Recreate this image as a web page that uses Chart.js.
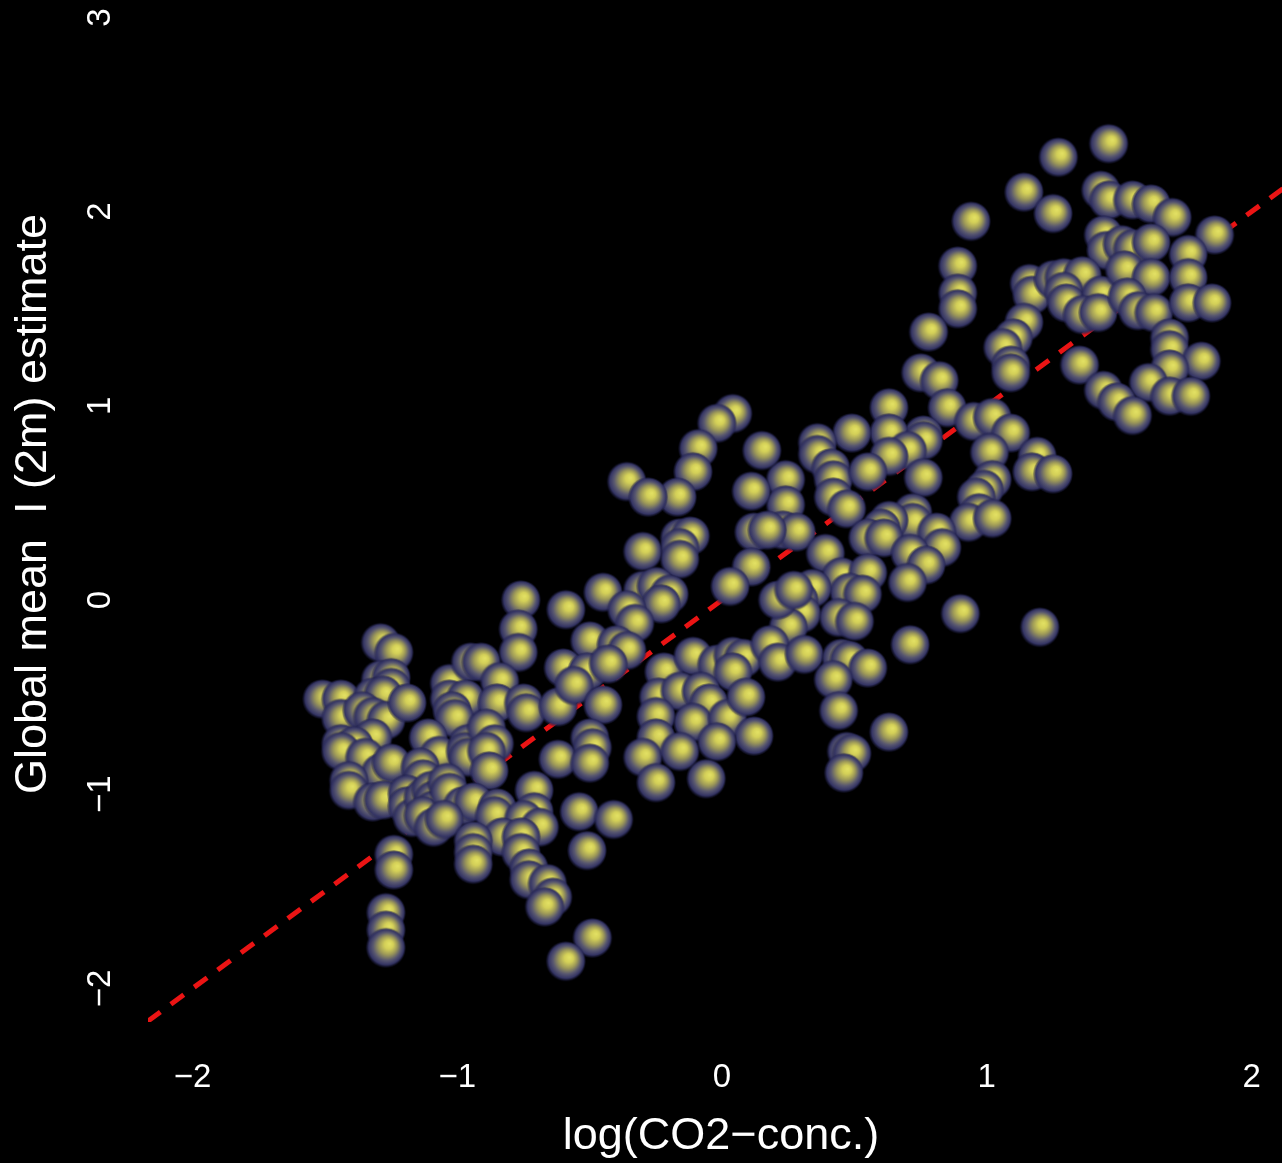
<!DOCTYPE html>
<html>
<head>
<meta charset="utf-8">
<script src="https://cdn.jsdelivr.net/npm/chart.js@4/dist/chart.umd.min.js"></script>
<style>
  html, body { margin: 0; padding: 0; background: #000; }
  canvas { display: block; }
</style>
</head>
<body>
<canvas id="scatter" width="1282" height="1163"></canvas>
<script>
// log(CO2-conc.) values, grouped by region
const co2 = [
  1.46, 1.27, 1.14, 1.25, 0.94, 1.43, 1.46, 1.55, 1.62, 1.70,
  1.86, 1.44, 1.45, 1.51, 1.55, 1.62, 1.76, 0.89, 0.89, 0.89,
  1.16, 1.17, 1.25, 1.29, 1.36, 1.29, 1.30, 1.43, 1.36, 1.42,
  1.52, 1.62, 1.53, 1.57, 1.63, 1.76, 1.76, 1.85, 0.78, 1.14,
  1.10, 1.06, 1.09, 1.09, 1.35, 1.69, 1.69, 1.81, 1.69, 1.61,
  1.44, 1.49, 1.55, 1.69, 1.77, 0.75, 0.82, 0.85, 0.95, 1.02, 0.76, 1.09,
  1.01, 1.19, 1.17, 1.25, 0.63, 0.63, 0.49, 0.76, 0.70, 0.63,
  0.36, 0.36, 0.41, 0.42, 0.55, 0.76, 0.24, 0.42, 0.47, 0.24,
  0.23, 0.28, 1.02, 0.99, 0.96, 0.97, 0.93, 1.02, 0.72, 0.72,
  0.63, 0.60, 0.55, 0.61, 0.81, 0.83, 0.71, 0.77, 0.70, 0.39,
  0.45, 0.55, 0.48, 0.53, 0.34, 0.29, 0.30, 0.25, 0.44, 0.50, 0.90, 1.20, 0.71,
  0.04, -0.02, -0.09, -0.11, -0.17, -0.36, -0.28, 0.15, 0.11, 0.12,
  0.17, 0.11, 0.03, -0.30, -0.16, -0.12, -0.16, -0.16, -0.76, -0.59,
  -0.45, -0.30, -0.25, -0.20, -0.23, -0.36, -0.33, -0.77, 0.21, 0.27,
  -1.29, -1.24, -1.51, -1.44, -1.44, -1.29, -1.25, -1.25, -1.32, -1.28,
  -1.36, -1.32, -1.27, -1.19, -1.32, -1.44, -1.39, -1.44, -1.35, -1.29,
  -1.25, -1.41, -1.41, -1.32, -1.28, -1.03, -0.95, -0.91, -0.77, -0.84,
  -1.03, -0.97, -1.02, -1.01, -0.85, -0.75, -0.74, -0.62, -1.11, -1.07,
  -0.96, -0.97, -0.96, -0.89, -0.86, -0.89, -0.88, -1.14, -1.13, -1.19,
  -1.19, -1.17, -1.13, -1.10, -1.09, -1.09, -1.13, -1.04, -1.03, -0.98,
  -0.94, -1.09, -1.05, -0.85, -0.86, -0.71, -0.71, -0.75, -0.69, -0.83,
  -0.76, -0.76, -0.73, -0.73, -0.94, -0.94, -0.94, -1.24, -1.24, -0.62,
  -0.50, -0.40, -0.36, -0.60, -0.51, -0.43, -0.56, -0.45, -0.50, -0.49,
  -0.50, -0.22, -0.11, -0.02, 0.04, 0.08, 0.04, 0.18, 0.21, -0.24,
  -0.16, -0.08, -0.05, -0.25, -0.11, 0.02, 0.09, 0.12, -0.25, -0.30,
  -0.16, -0.02, -0.25, -0.06, -0.54, -0.41, -0.51,
  0.31, 0.45, 0.48, 0.55, 0.42, 0.44, 0.63, 0.47, 0.49, 0.46,
  -0.66, -0.64, -0.67, -0.49, -0.59, -1.27, -1.27, -1.27
];

// global mean T (2m) estimate, same order as co2
const temp = [
  2.35, 2.28, 2.10, 1.99, 1.95, 2.11, 2.06, 2.06, 2.04, 1.97,
  1.88, 1.88, 1.80, 1.83, 1.81, 1.84, 1.78, 1.72, 1.58, 1.50,
  1.63, 1.57, 1.65, 1.66, 1.67, 1.59, 1.53, 1.57, 1.47, 1.48,
  1.70, 1.66, 1.56, 1.49, 1.48, 1.66, 1.53, 1.53, 1.38, 1.43,
  1.35, 1.30, 1.21, 1.17, 1.21, 1.35, 1.29, 1.23, 1.19, 1.12,
  1.08, 1.02, 0.95, 1.05, 1.05, 1.17, 1.13, 0.99, 0.92, 0.94, 0.85, 0.86,
  0.76, 0.74, 0.66, 0.65, 0.99, 0.86, 0.86, 0.82, 0.77, 0.74,
  0.81, 0.75, 0.68, 0.62, 0.66, 0.63, 0.62, 0.53, 0.47, 0.49,
  0.36, 0.35, 0.62, 0.57, 0.53, 0.45, 0.40, 0.42, 0.45, 0.40,
  0.41, 0.37, 0.32, 0.32, 0.35, 0.27, 0.24, 0.18, 0.09, 0.24,
  0.12, 0.14, 0.04, 0.03, 0.06, 0.00, -0.07, -0.14, -0.09, -0.11, -0.07, -0.14, -0.23,
  0.96, 0.91, 0.78, 0.66, 0.53, 0.61, 0.53, 0.77, 0.56, 0.35,
  0.36, 0.17, 0.07, 0.25, 0.32, 0.33, 0.27, 0.21, 0.00, -0.05,
  0.04, 0.05, 0.07, 0.03, -0.02, -0.05, -0.12, -0.15, 0.00, 0.05,
  -0.22, -0.27, -0.51, -0.51, -0.61, -0.41, -0.40, -0.45, -0.50, -0.49,
  -0.57, -0.60, -0.62, -0.53, -0.71, -0.74, -0.75, -0.78, -0.81, -0.89,
  -0.84, -0.93, -0.98, -1.04, -1.03, -0.43, -0.32, -0.32, -0.27, -0.42,
  -0.51, -0.51, -0.57, -0.61, -0.53, -0.53, -0.58, -0.55, -0.71, -0.80,
  -0.74, -0.78, -0.81, -0.66, -0.74, -0.78, -0.88, -0.86, -0.92, -1.00,
  -1.06, -1.12, -1.02, -0.98, -1.03, -1.08, -1.11, -0.94, -0.99, -1.06,
  -1.04, -1.17, -1.13, -1.07, -1.11, -0.98, -1.09, -1.13, -1.17, -1.22,
  -1.22, -1.30, -1.38, -1.44, -1.24, -1.30, -1.36, -1.31, -1.39, -0.82,
  -0.21, -0.23, -0.26, -0.35, -0.37, -0.33, -0.44, -0.54, -0.71, -0.76,
  -0.84, -0.37, -0.29, -0.33, -0.29, -0.30, -0.37, -0.23, -0.32, -0.50,
  -0.47, -0.47, -0.53, -0.60, -0.63, -0.61, -0.50, -0.70, -0.71, -0.81,
  -0.78, -0.73, -0.94, -0.92, -1.09, -1.13, -1.29,
  -0.28, -0.30, -0.31, -0.35, -0.41, -0.57, -0.68, -0.78, -0.79, -0.89,
  -1.46, -1.53, -1.58, -1.74, -1.86, -1.61, -1.70, -1.79
];

// dashed fit line end points
const fitX = [-2.17, 2.12];
const fitY = [-2.17, 2.12];

const xTicks = [-2, -1, 0, 1, 2];
const yTicks = [-2, -1, 0, 1, 2, 3];
const xTitle = 'log(CO2\u2212conc.)';
const yTitle = 'Global mean  I (2m) estimate';

const FONT = '"Liberation Sans", Arial, Helvetica, sans-serif';

// glowing ball sprite used as the point style
function makeBall(r) {
  const size = r * 2 + 2;
  const c = document.createElement('canvas');
  c.width = size;
  c.height = size;
  const g = c.getContext('2d');
  const cx = size / 2, cy = size / 2;
  const grad = g.createRadialGradient(cx + 4, cy - 4, 0, cx, cy, r);
  grad.addColorStop(0, 'rgb(228,226,100)');
  grad.addColorStop(0.22, 'rgb(212,208,88)');
  grad.addColorStop(0.46, 'rgb(158,154,88)');
  grad.addColorStop(0.7, 'rgb(88,87,112)');
  grad.addColorStop(0.88, 'rgb(52,52,100)');
  grad.addColorStop(1, 'rgba(30,30,70,0.2)');
  g.fillStyle = grad;
  g.beginPath();
  g.arc(cx, cy, r, 0, Math.PI * 2);
  g.fill();
  return c;
}

const ball = makeBall(20);

const fmt = v => (v < 0 ? '\u2212' + Math.abs(v) : String(v));

const blackBg = {
  id: 'blackBg',
  beforeDraw(chart) {
    const ctx = chart.ctx;
    ctx.save();
    ctx.fillStyle = '#000';
    ctx.fillRect(0, 0, chart.width, chart.height);
    ctx.restore();
  }
};

const axisText = {
  id: 'axisText',
  afterDraw(chart) {
    const { ctx, scales: { x, y } } = chart;
    ctx.save();
    ctx.fillStyle = '#fff';
    ctx.textAlign = 'center';
    ctx.textBaseline = 'middle';
    ctx.font = '33px ' + FONT;
    xTicks.forEach(v => ctx.fillText(fmt(v), x.getPixelForValue(v), 1078));
    yTicks.forEach(v => {
      ctx.save();
      ctx.translate(101, y.getPixelForValue(v));
      ctx.rotate(-Math.PI / 2);
      ctx.fillText(fmt(v), 0, 0);
      ctx.restore();
    });
    ctx.font = '45px ' + FONT;
    ctx.fillText(xTitle, 721, 1137);
    ctx.save();
    ctx.translate(34, 504);
    ctx.rotate(-Math.PI / 2);
    ctx.fillText(yTitle, 0, 0);
    ctx.restore();
    ctx.restore();
  }
};

new Chart(document.getElementById('scatter'), {
  type: 'scatter',
  data: {
    datasets: [
      {
        label: 'Estimates',
        data: co2.map((v, i) => ({ x: v, y: temp[i] })),
        pointStyle: ball,
        pointRadius: 20,
        pointHoverRadius: 20,
        order: 0,
      },
      {
        label: 'Fit',
        data: fitX.map((v, i) => ({ x: v, y: fitY[i] })),
        showLine: true,
        borderColor: 'rgb(235,20,20)',
        borderWidth: 5,
        borderDash: [16, 13],
        pointRadius: 0,
        order: 1,
      },
    ],
  },
  options: {
    responsive: false,
    animation: false,
    devicePixelRatio: 1,
    layout: {
      autoPadding: false,
      padding: { left: 148, right: 0, top: 0, bottom: 141 },
    },
    scales: {
      x: { type: 'linear', min: -2.168, max: 2.115, display: false },
      y: { type: 'linear', min: -2.173, max: 3.09, display: false },
    },
    plugins: {
      legend: { display: false },
      tooltip: { enabled: false },
    },
  },
  plugins: [blackBg, axisText],
});
</script>
</body>
</html>
